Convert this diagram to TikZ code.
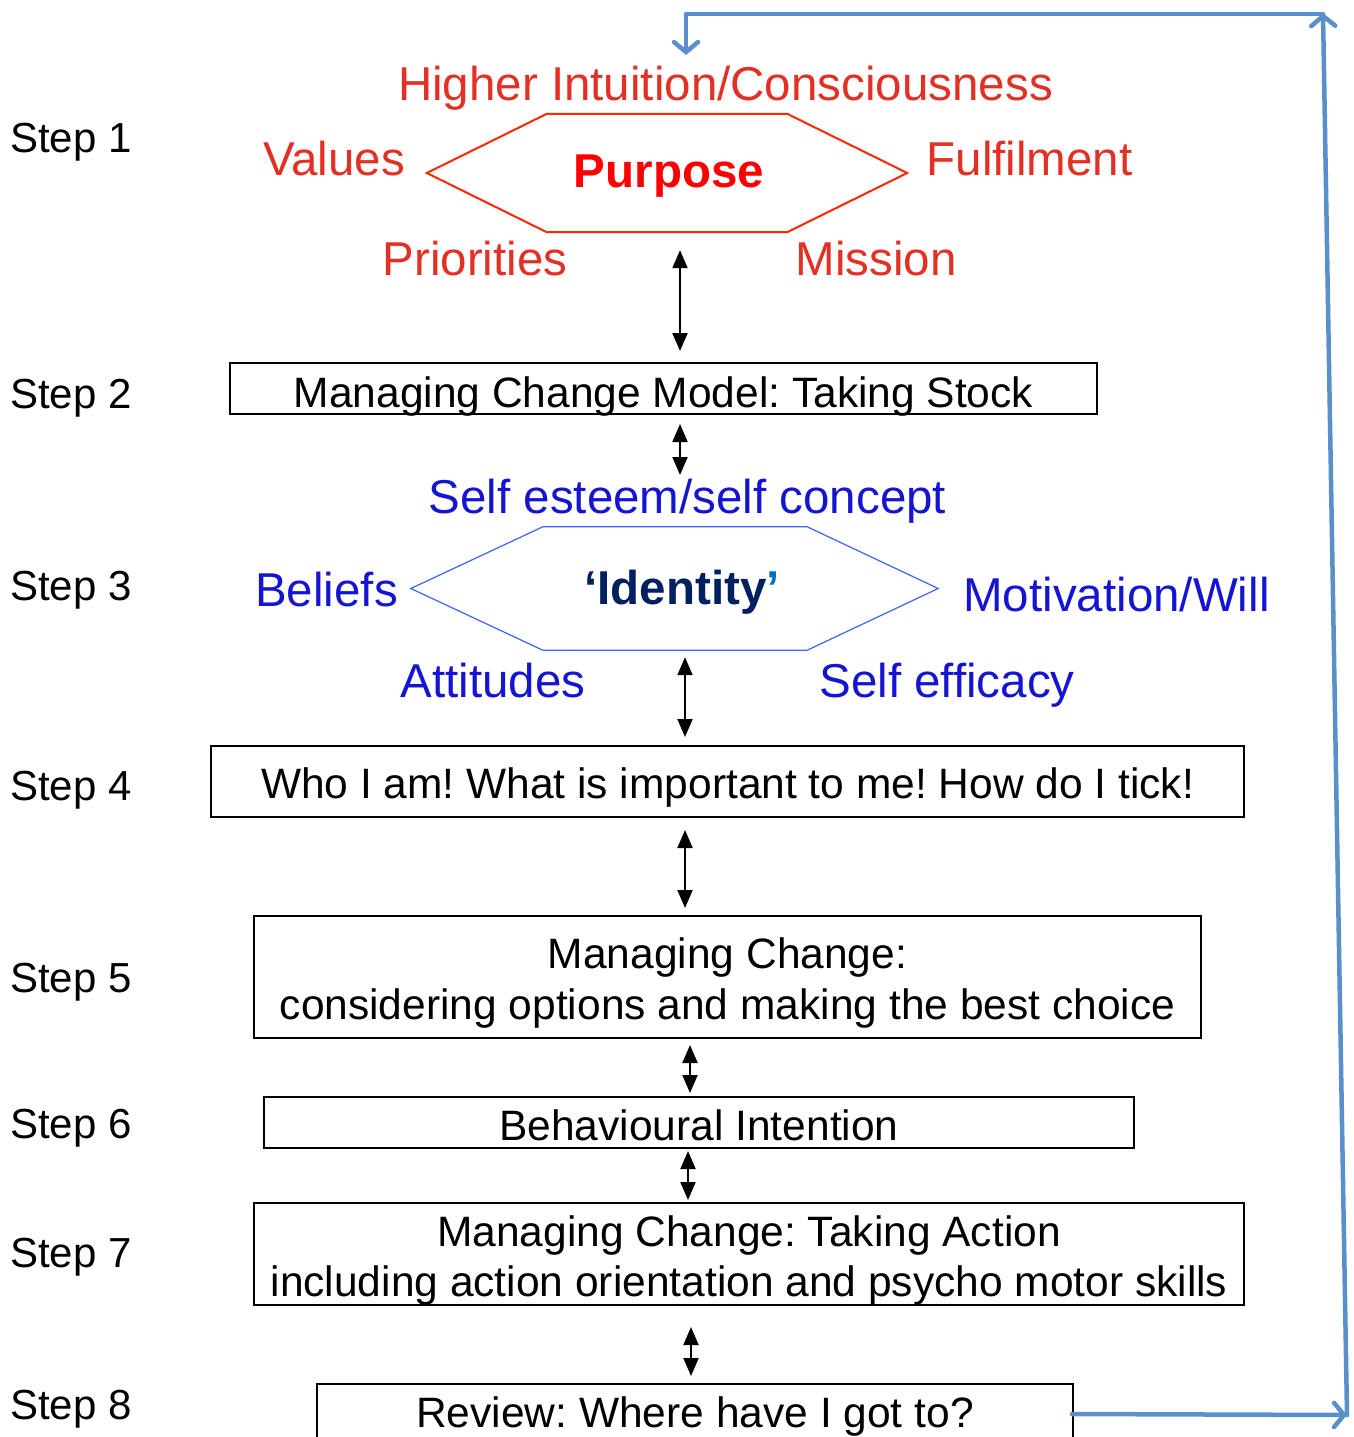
\documentclass[tikz,border=0pt]{standalone}
\usepackage{fontspec}
\setmainfont{Liberation Sans}
\frenchspacing
\usetikzlibrary{arrows.meta,calc}
\definecolor{lblred}{RGB}{228,48,36}
\definecolor{hexred}{RGB}{255,40,0}
\definecolor{purred}{RGB}{255,0,0}
\definecolor{lblblue}{RGB}{20,20,210}
\definecolor{hexblue}{RGB}{60,100,255}
\definecolor{navy}{RGB}{0,32,96}
\definecolor{quoteblue}{RGB}{0,112,192}
\definecolor{fbblue}{RGB}{91,143,201}
\tikzset{
  steplbl/.style={anchor=base west, inner sep=0pt, font=\fontsize{42}{50}\selectfont},
  redlbl/.style={anchor=base, inner sep=0pt, text=lblred, font=\fontsize{47.5}{57}\selectfont},
  bluelbl/.style={anchor=base, inner sep=0pt, text=lblblue, font=\fontsize{47.5}{57}\selectfont},
  stepbox/.style={draw=black, line width=2pt, inner sep=0pt, align=center, font=\fontsize{42.5}{51}\selectfont},
  hexframe/.style={inner sep=0pt},
  dbl/.style={line width=2pt, {Triangle[width=15pt,length=18pt]}-{Triangle[width=15pt,length=18pt]}},
  fb/.style={draw=fbblue, line width=4.5pt, line cap=round, line join=round},
  fbtip/.style={-{Straight Barb[length=10pt,width=24pt,line cap=round]}}
}
\begin{document}
\begin{tikzpicture}[x=1pt,y=-1pt]
\useasboundingbox (0,0) rectangle (1353,1437);
\fill[white] (0,0) rectangle (1353,1437);

% step labels
\node[steplbl] (s1) at (10,152) {Step 1};
\node[steplbl] (s2) at (10,408) {Step 2};
\node[steplbl] (s3) at (10,600) {Step 3};
\node[steplbl] (s4) at (10,800) {Step 4};
\node[steplbl] (s5) at (10,992) {Step 5};
\node[steplbl] (s6) at (10,1138) {Step 6};
\node[steplbl] (s7) at (10,1267) {Step 7};
\node[steplbl] (s8) at (10,1419) {Step 8};

% step 1 hexagon
\node[hexframe, minimum width=480pt, minimum height=118pt] (hex1) at (667,173) {};
\draw[hexred, line width=2pt] (hex1.west) -- ([xshift=120pt]hex1.north west) -- ([xshift=-120pt]hex1.north east)
  -- (hex1.east) -- ([xshift=-120pt]hex1.south east) -- ([xshift=120pt]hex1.south west) -- cycle;
\node[anchor=base, inner sep=0pt, text=purred, font=\fontsize{47.5}{57}\selectfont\bfseries] (purpose) at (669,187) {Purpose};
\node[redlbl] (higher) at (725.5,100) {Higher Intuition/Consciousness};
\node[redlbl] (values) at (334,175) {Values};
\node[redlbl] (fulfil) at (1029.5,175) {Fulfilment};
\node[redlbl] (prior) at (475,275) {Priorities};
\node[redlbl] (mission) at (876,275) {Mission};

% step 2
\node[stepbox, minimum width=867pt, minimum height=51pt, text height=37pt, text depth=0pt] (box2) at (663.5,388.5) {Managing Change Model: Taking Stock};

% step 3 hexagon
\node[hexframe, minimum width=527pt, minimum height=123pt] (hex2) at (674.5,588.5) {};
\draw[hexblue, line width=1.2pt] (hex2.west) -- ([xshift=132pt]hex2.north west) -- ([xshift=-131pt]hex2.north east)
  -- (hex2.east) -- ([xshift=-131pt]hex2.south east) -- ([xshift=132pt]hex2.south west) -- cycle;
\node[anchor=base, inner sep=0pt, text=navy, font=\fontsize{47.5}{57}\selectfont\bfseries] (identity) at (682,604) {‘Identity\textcolor{quoteblue}{’}};
\node[bluelbl] (selfest) at (687.5,513) {Self esteem/self concept};
\node[bluelbl] (beliefs) at (326.5,606) {Beliefs};
\node[bluelbl] (motiv) at (1116.5,611) {Motivation/Will};
\node[bluelbl] (attit) at (493,697) {Attitudes};
\node[bluelbl] (selfeff) at (947,697) {Self efficacy};

% boxes
\node[stepbox, minimum width=1033pt, minimum height=71pt, text height=33pt, text depth=0pt] (box4) at (727.5,781.5) {Who I am! What is important to me! How do I tick!};
\node[stepbox, minimum width=947pt, minimum height=122pt, text height=90pt, text depth=6pt] (box5) at (727.5,977) {Managing Change:\\considering options and making the best choice};
\node[stepbox, minimum width=870pt, minimum height=51pt, text height=35pt, text depth=0pt] (box6) at (699,1122.5) {Behavioural Intention};
\node[stepbox, minimum width=990pt, minimum height=102pt, text height=90pt, text depth=6pt, font=\fontsize{42.5}{50}\selectfont] (box7) at (749,1254) {Managing Change: Taking Action\\including action orientation and psycho motor skills};
\node[stepbox, minimum width=756pt, minimum height=100pt, text height=10pt, text depth=24pt] (box8) at (695,1434) {Review: Where have I got to?};

% arrow x positions
\coordinate (a1x) at (680,0);
\coordinate (a2x) at (680,0);
\coordinate (a3x) at (685,0);
\coordinate (a4x) at (685,0);
\coordinate (a5x) at (690,0);
\coordinate (a6x) at (688,0);
\coordinate (a7x) at (691,0);

\draw[dbl, shorten <=18pt, shorten >=11pt] (hex1.south -| a1x) -- (box2.north -| a1x);
\draw[dbl, shorten <=9pt, shorten >=38pt] (box2.south -| a2x) -- (selfest.base -| a2x);
\draw[dbl, shorten <=7pt, shorten >=8pt] (hex2.south -| a3x) -- (box4.north -| a3x);
\draw[dbl, shorten <=12pt, shorten >=7pt] (box4.south -| a4x) -- (box5.north -| a4x);
\draw[dbl, shorten <=6pt, shorten >=3pt] (box5.south -| a5x) -- (box6.north -| a5x);
\draw[dbl, shorten <=2pt, shorten >=2pt] (box6.south -| a6x) -- (box7.north -| a6x);
\draw[dbl, shorten <=21pt, shorten >=7pt] (box7.south -| a7x) -- (box8.north -| a7x);

% feedback loop
\coordinate (fbbr) at (1347,1415);
\coordinate (fbtr) at (1323,13);
\coordinate (fbtl) at (686,14);
\draw[fb, fbtip] ([xshift=-2pt,yshift=-31pt]box8.north east) -- (fbbr);
\draw[fb, fbtip] (fbbr) -- (fbtr);
\draw[fb, fbtip, shorten >=45pt] (fbtr |- fbtl) -- (fbtl) -- (fbtl |- higher.base);
\end{tikzpicture}
\end{document}
